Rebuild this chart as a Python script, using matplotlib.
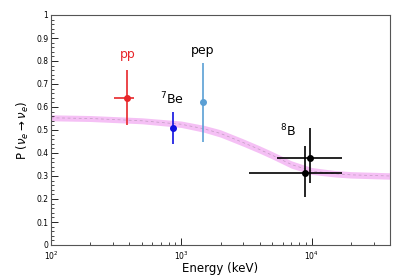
import numpy as np
import matplotlib
matplotlib.use("Agg")
import matplotlib.pyplot as plt
from matplotlib.ticker import LogLocator, MultipleLocator, NullFormatter

# Data
labels = ["pp", "7Be", "pep", "8B_a", "8B_b"]
energy = [385, 870, 1470, 9700, 8900]
prob = [0.64, 0.51, 0.62, 0.38, 0.313]
prob_up = [0.76, 0.58, 0.79, 0.51, 0.43]
prob_lo = [0.52, 0.44, 0.45, 0.27, 0.21]
e_lo = [305, 870, 1470, 5400, 3300]
e_hi = [435, 870, 1470, 17000, 17000]
colors = ["#e8262a", "#1010e0", "#5a9fd4", "black", "black"]

band_e = [100, 200, 500, 1000, 1500, 2000, 3000, 4000, 5000, 7000, 10000, 15000, 20000, 40000]
band_p = [0.553, 0.55, 0.54, 0.525, 0.505, 0.485, 0.445, 0.415, 0.39, 0.35, 0.322, 0.31, 0.305, 0.30]
band_w = [0.013, 0.013, 0.013, 0.014, 0.015, 0.016, 0.016, 0.016, 0.016, 0.016, 0.015, 0.014, 0.014, 0.014]

fig = plt.figure(figsize=(4.15, 2.78), dpi=100)
ax = fig.add_axes([51/415, 1-245/278, (390-51)/415, (245-15)/278])

be = np.array(band_e, float)
bp = np.array(band_p)
bw = np.array(band_w)
ax.fill_between(be, bp - bw, bp + bw, color="#f5c0f5", lw=0, zorder=1)
ax.plot(be, bp, color="#c09cc0", lw=0.5, ls=(0, (4, 4)), zorder=2)

for i in range(len(energy)):
    ax.errorbar(energy[i], prob[i],
                yerr=[[prob[i] - prob_lo[i]], [prob_up[i] - prob[i]]],
                xerr=[[energy[i] - e_lo[i]], [e_hi[i] - energy[i]]],
                fmt="o", color=colors[i], ms=4, elinewidth=1.2, capsize=0, zorder=3)

ax.text(385, 0.83, "pp", color="#e8262a", fontsize=9, ha="center", va="center")
ax.text(1470, 0.845, "pep", color="black", fontsize=9, ha="center", va="center")
ax.text(850, 0.635, "$^{7}$Be", color="black", fontsize=9, ha="center", va="center")
ax.text(6600, 0.495, "$^{8}$B", color="black", fontsize=9, ha="center", va="center")

ax.set_xscale("log")
ax.set_xlim(100, 40000)
ax.set_ylim(0, 1)
ax.yaxis.set_major_locator(MultipleLocator(0.1))
ax.yaxis.set_minor_locator(MultipleLocator(0.02))
ax.yaxis.set_major_formatter(plt.FuncFormatter(lambda v, p: ("%g" % round(v, 1))))
ax.xaxis.set_major_locator(LogLocator(base=10, numticks=10))
ax.xaxis.set_minor_locator(LogLocator(base=10, subs=np.arange(2, 10), numticks=20))
ax.xaxis.set_minor_formatter(NullFormatter())

ax.tick_params(axis="both", which="both", direction="in", labelsize=5.5)
ax.tick_params(axis="y", which="major", pad=2)
ax.tick_params(axis="x", which="major", pad=3)
ax.tick_params(axis="both", which="major", length=5, width=0.6)
ax.tick_params(axis="both", which="minor", length=2.5, width=0.5)
for s in ax.spines.values():
    s.set_linewidth(0.8)
    s.set_color("#555555")

ax.set_xlabel("Energy (keV)", fontsize=8.5, labelpad=0)
ax.set_ylabel(r"P ($\nu_e \rightarrow \nu_e$)", fontsize=8.5, labelpad=4)

fig.savefig("out.png", dpi=100)
